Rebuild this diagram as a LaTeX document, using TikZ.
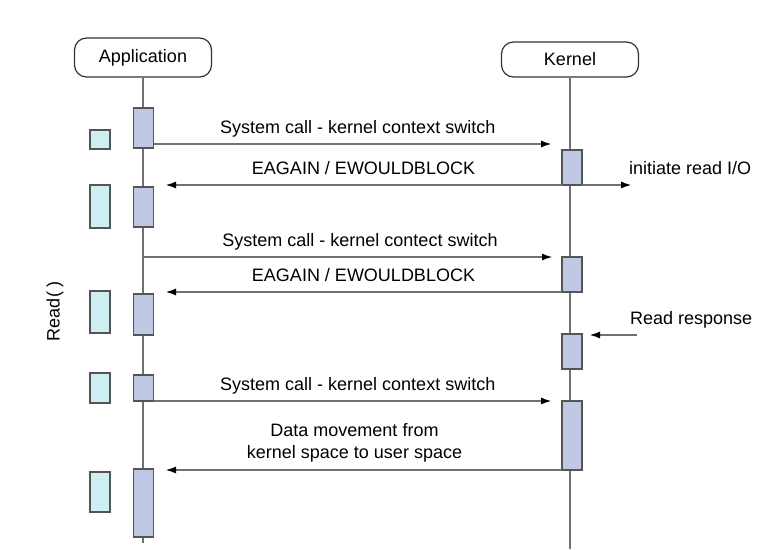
\documentclass[tikz,border=0pt]{standalone}
\usepackage{fontspec}
\setmainfont{Liberation Sans}
\usetikzlibrary{arrows.meta}
\definecolor{actfill}{HTML}{C0C9E4}
\definecolor{idlefill}{HTML}{CDEEF3}
\definecolor{edge}{HTML}{555555}
\definecolor{wire}{HTML}{717171}
\begin{document}
\begin{tikzpicture}[x=1pt,y=-1pt,
    txt/.style={font=\fontsize{18}{22}\selectfont},
    head/.style={txt,draw=black!80,line width=1.2pt,rounded corners=12pt,minimum width=137pt,inner sep=0pt},
    life/.style={draw=wire,line width=2pt},
    actbox/.style={draw=edge,fill=actfill,line width=1.8pt,minimum width=20pt,inner sep=0pt,outer sep=0pt},
    idlebox/.style={draw=edge,fill=idlefill,line width=1.8pt,minimum width=20pt,inner sep=0pt,outer sep=0pt},
    msg/.style={draw=wire,line width=2pt,-{Latex[length=11pt,width=7pt,color=black]}},
    lbl/.style={txt,inner sep=0pt,text height=13pt,text depth=4pt,above=6pt}]
    \useasboundingbox (0,0) rectangle (763,549);
    \node[head,minimum height=39pt] (app) at (143,57.5) {Application};
    \node[head,minimum height=35pt] (kern) at (570,59.5) {Kernel};
    \coordinate (append) at (143,543);
    \coordinate (kernend) at (570,549);
    \draw[life] (app.south) -- (append);
    \draw[life] (kern.south) -- (kernend);
    \foreach \n/\ya/\yb in {a1/108/148, a2/187/227, a3/294/335, a4/375/401, a5/469/537}
    \node[actbox,minimum height={(\yb-\ya)*1pt}] (\n) at (143.5,{(\ya+\yb)/2}) {};
    \foreach \n/\ya/\yb in {u1/130/149, u2/185/228, u3/291/333, u4/373/403, u5/472/512}
    \node[idlebox,minimum height={(\yb-\ya)*1pt}] (\n) at (100,{(\ya+\yb)/2}) {};
    \foreach \n/\ya/\yb in {k1/150/185, k2/257/292, k3/334/369, k4/401/470}
    \node[actbox,minimum height={(\yb-\ya)*1pt}] (\n) at (572,{(\ya+\yb)/2}) {};
    \coordinate (t1) at (552,144);
    \coordinate (t2) at (165,185);
    \coordinate (t3) at (632,185);
    \coordinate (t4) at (553,257);
    \coordinate (t5) at (165,292);
    \coordinate (rs) at (637,335);
    \coordinate (t6) at (589,335);
    \coordinate (t7) at (552,401);
    \coordinate (t8) at (165,470);
    \draw[msg] (a1.east |- t1) -- node[lbl,xshift=5pt] {System call - kernel context switch} (t1);
    \draw[msg] (k1.south west) -- node[lbl] {EAGAIN / EWOULDBLOCK} (t2);
    \draw[msg] (k1.south east) -- (t3) node[lbl,anchor=south west,xshift=-4pt] {initiate read I/O};
    \draw[msg] (app.south |- t4) -- node[lbl,xshift=12pt] {System call - kernel contect switch} (t4);
    \draw[msg] (k2.south west) -- node[lbl] {EAGAIN / EWOULDBLOCK} (t5);
    \draw[msg] (rs) node[lbl,anchor=south west,xshift=-8pt] {Read response} -- (t6);
    \draw[msg] (a4.south east) -- node[lbl,xshift=5pt] {System call - kernel context switch} (t7);
    \draw[msg] (k4.south west) -- node[lbl,above=1pt,align=center,xshift=-9pt] {Data movement from\\kernel space to user space} (t8);
    \node[txt,rotate=90] (readlbl) at (55,311) {Read( )};
  \end{tikzpicture}
\end{document}
